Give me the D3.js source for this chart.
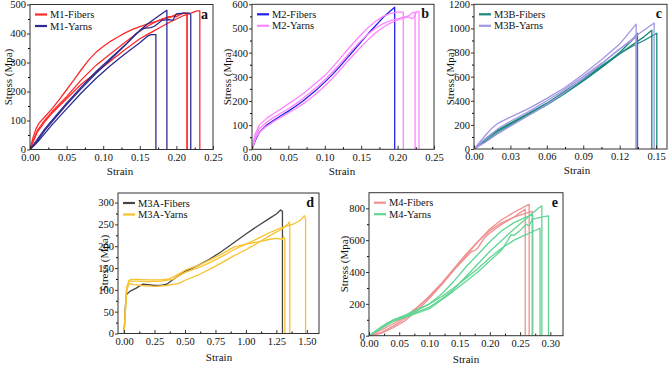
<!DOCTYPE html>
<html><head><meta charset="utf-8">
<script src="https://cdn.jsdelivr.net/npm/d3@7"></script>
<style>body{margin:0;background:#fff}svg{display:block}svg text{font-family:"Liberation Serif","Tinos","Times New Roman","DejaVu Serif",serif !important}</style>
</head><body><svg id="c" width="668" height="365"></svg>
<script>
// ---------- DATA: [strain, stress] ----------
const m1Fibers = [
 [[0,0],[0.004,40],[0.008,70],[0.012,90],[0.02,112],[0.03,140],[0.04,172],[0.05,206],[0.06,240],[0.07,275],[0.08,308],[0.09,335],[0.10,355],[0.11,373],[0.12,388],[0.13,402],[0.14,414],[0.15,424],[0.16,432],[0.17,440],[0.18,448],[0.19,455],[0.20,466],[0.21,470],[0.2146,468]],
 [[0,0],[0.005,30],[0.01,60],[0.02,95],[0.03,125],[0.05,175],[0.07,225],[0.09,265],[0.11,305],[0.13,345],[0.15,382],[0.16,396],[0.17,410],[0.18,424],[0.19,438],[0.20,450],[0.21,462],[0.22,470],[0.228,478],[0.232,478]],
 [[0,0],[0.005,35],[0.01,65],[0.02,100],[0.03,130],[0.05,182],[0.07,240],[0.09,290],[0.11,330],[0.13,370],[0.15,408],[0.16,424],[0.17,438],[0.18,450],[0.19,458],[0.20,458],[0.205,465],[0.21,470],[0.2146,470]]
];
const m1Yarns = [
 [[0,0],[0.01,30],[0.02,65],[0.03,95],[0.05,155],[0.07,210],[0.09,262],[0.11,310],[0.13,360],[0.15,410],[0.16,432],[0.17,450],[0.18,468],[0.187,480]],
 [[0,0],[0.01,25],[0.02,55],[0.03,85],[0.05,140],[0.07,195],[0.09,245],[0.11,290],[0.13,330],[0.15,368],[0.16,390],[0.165,396],[0.172,396]],
 [[0,0],[0.01,35],[0.02,70],[0.03,100],[0.05,160],[0.07,215],[0.09,268],[0.11,315],[0.13,360],[0.145,400],[0.155,418],[0.165,420],[0.17,425],[0.18,445],[0.19,448],[0.195,445],[0.2,468],[0.21,470],[0.218,470],[0.2196,465]]
];
const m2Fibers = [
 [[0,0],[0.005,40],[0.01,70],[0.02,100],[0.03,120],[0.04,140],[0.05,158],[0.06,178],[0.07,200],[0.08,225],[0.09,250],[0.1,278],[0.11,308],[0.12,340],[0.13,375],[0.14,410],[0.15,445],[0.16,480],[0.17,512],[0.18,545],[0.19,572],[0.196,588]]
];
const m2Yarns = [
 [[0,0],[0.004,60],[0.01,100],[0.02,128],[0.03,148],[0.04,168],[0.05,188],[0.06,208],[0.07,230],[0.08,255],[0.09,280],[0.1,305],[0.11,338],[0.12,372],[0.13,408],[0.14,442],[0.15,475],[0.16,505],[0.17,530],[0.18,550],[0.19,562],[0.2,568],[0.2078,568]],
 [[0,0],[0.005,55],[0.01,85],[0.02,112],[0.03,132],[0.04,150],[0.05,168],[0.06,188],[0.07,210],[0.08,235],[0.09,260],[0.1,288],[0.11,318],[0.12,350],[0.13,385],[0.14,418],[0.15,450],[0.16,478],[0.17,502],[0.18,520],[0.19,532],[0.2,540],[0.21,548],[0.215,552],[0.22,565],[0.224,568]],
 [[0,0],[0.005,45],[0.01,70],[0.02,95],[0.03,115],[0.04,133],[0.05,150],[0.06,168],[0.07,188],[0.08,210],[0.09,235],[0.1,262],[0.11,292],[0.12,325],[0.13,360],[0.14,392],[0.15,425],[0.16,455],[0.17,482],[0.18,505],[0.19,522],[0.2,535],[0.21,545],[0.215,548],[0.22,540],[0.223,548],[0.226,570],[0.2294,570]]
];
const m3bFibers = [
 [[0,0],[0.005,40],[0.01,85],[0.02,150],[0.03,205],[0.045,290],[0.06,375],[0.075,470],[0.09,570],[0.105,680],[0.12,800],[0.13,900],[0.1347,960]],
 [[0,0],[0.01,70],[0.02,135],[0.03,195],[0.045,280],[0.06,365],[0.075,460],[0.09,565],[0.105,675],[0.12,790],[0.13,860],[0.14,930],[0.1465,985]],
 [[0,0],[0.01,90],[0.02,160],[0.03,215],[0.045,295],[0.06,380],[0.075,480],[0.09,580],[0.105,690],[0.12,790],[0.13,850],[0.14,900],[0.1506,960]]
];
const m3bYarns = [
 [[0,0],[0.005,60],[0.01,120],[0.015,175],[0.02,215],[0.03,265],[0.045,335],[0.06,420],[0.075,510],[0.09,620],[0.105,740],[0.12,870],[0.1336,1035]],
 [[0,0],[0.01,90],[0.02,170],[0.03,230],[0.045,310],[0.06,400],[0.075,495],[0.09,600],[0.105,710],[0.12,830],[0.135,950],[0.1484,1045]],
 [[0,0],[0.01,60],[0.02,130],[0.03,190],[0.045,280],[0.06,370],[0.075,470],[0.09,585],[0.105,705],[0.12,830],[0.13,900],[0.1336,930]]
];
const m3aFibers = [
 [[0,0],[0.01,60],[0.02,90],[0.05,97],[0.1,104],[0.15,113],[0.2,112],[0.25,110],[0.3,110],[0.35,113],[0.4,123],[0.45,133],[0.5,142],[0.6,155],[0.7,170],[0.8,188],[0.9,208],[1.0,228],[1.1,247],[1.2,265],[1.25,274],[1.285,283],[1.30,280]]
];
const m3aYarns = [
 [[0,0],[0.02,100],[0.04,122],[0.06,124],[0.1,124],[0.2,123],[0.3,123],[0.37,125],[0.42,132],[0.5,145],[0.6,155],[0.7,168],[0.8,182],[0.9,198],[1.0,205],[1.1,210],[1.2,216],[1.25,218],[1.3,216],[1.31,222],[1.32,215]],
 [[0,0],[0.02,95],[0.04,115],[0.08,112],[0.15,110],[0.25,108],[0.35,110],[0.45,115],[0.5,122],[0.6,133],[0.7,147],[0.8,162],[0.9,178],[1.0,192],[1.1,208],[1.2,225],[1.3,240],[1.35,252],[1.355,256],[1.36,250]],
 [[0,0],[0.02,105],[0.04,120],[0.1,120],[0.2,119],[0.3,120],[0.4,124],[0.45,132],[0.5,140],[0.6,150],[0.7,162],[0.8,176],[0.9,192],[1.0,205],[1.1,218],[1.2,232],[1.3,243],[1.4,252],[1.45,260],[1.48,270],[1.49,262]]
];
const m4Fibers = [
 [[0,0],[0.02,20],[0.04,60],[0.06,110],[0.08,175],[0.1,250],[0.12,330],[0.14,420],[0.16,510],[0.18,590],[0.2,670],[0.22,730],[0.24,775],[0.26,815],[0.265,825]],
 [[0,0],[0.02,35],[0.04,75],[0.06,120],[0.08,180],[0.1,245],[0.12,320],[0.14,410],[0.16,490],[0.17,530],[0.175,535],[0.18,550],[0.19,610],[0.2,645],[0.22,700],[0.24,745],[0.2585,795]],
 [[0,0],[0.02,15],[0.04,50],[0.06,95],[0.08,160],[0.1,235],[0.12,320],[0.14,410],[0.16,500],[0.18,590],[0.2,660],[0.22,710],[0.24,745],[0.26,770],[0.27,780]]
];
const m4Yarns = [
 [[0,0],[0.02,50],[0.04,95],[0.06,125],[0.08,160],[0.1,200],[0.12,260],[0.14,340],[0.16,430],[0.18,510],[0.2,590],[0.22,660],[0.24,710],[0.26,745],[0.271,760]],
 [[0,0],[0.02,45],[0.04,90],[0.06,120],[0.08,150],[0.1,180],[0.12,230],[0.14,290],[0.16,370],[0.18,450],[0.2,530],[0.22,600],[0.24,670],[0.26,735],[0.28,800],[0.286,815]],
 [[0,0],[0.02,55],[0.04,100],[0.06,130],[0.08,165],[0.1,200],[0.12,245],[0.14,300],[0.16,360],[0.18,420],[0.2,490],[0.22,550],[0.24,600],[0.26,635],[0.28,670],[0.283,675]],
 [[0,0],[0.03,80],[0.06,115],[0.1,170],[0.14,280],[0.18,400],[0.2,470],[0.22,540],[0.23,600],[0.235,635],[0.24,630],[0.25,660],[0.26,700],[0.265,690],[0.27,730],[0.28,740],[0.29,748],[0.297,752]]
];
// tick values
const ticksA_x=[0,0.05,0.1,0.15,0.2,0.25], ticksA_y=[0,100,200,300,400,500];
const ticksB_x=[0,0.05,0.1,0.15,0.2,0.25], ticksB_y=[0,100,200,300,400,500,600];
const ticksC_x=[0,0.03,0.06,0.09,0.12,0.15], ticksC_y=[0,200,400,600,800,1000,1200];
const ticksD_x=[0,0.25,0.5,0.75,1.0,1.25,1.5], ticksD_y=[0,50,100,150,200,250,300];
const ticksE_x=[0,0.05,0.1,0.15,0.2,0.25,0.3], ticksE_y=[0,200,400,600,800];

// ---------- LAYOUT ----------
const FONT='"Liberation Serif","Tinos","Times New Roman","DejaVu Serif",serif';
const panels = [
 {L:30,R:213,T:4.5,B:149.5,xd:[0,0.25],yd:[0,500],xt:ticksA_x,yt:ticksA_y,fx:".2f",series:[[m1Fibers,"#ff2a2a","M1-Fibers"],[m1Yarns,"#2b2b8f","M1-Yarns"]],letter:"a",ylx:8,yly:77,xlx:120,xly:175},
 {L:252,R:434,T:4.3,B:149.3,xd:[0,0.25],yd:[0,600],xt:ticksB_x,yt:ticksB_y,fx:".2f",series:[[m2Fibers,"#2020e8","M2-Fibers"],[m2Yarns,"#ff84ff","M2-Yarns"]],letter:"b",ylx:227,yly:77,xlx:342,xly:175},
 {L:474,R:667,T:4.3,B:149,xd:[0,0.159],yd:[0,1200],xt:ticksC_x,yt:ticksC_y,fx:".2f",series:[[m3bFibers,"#17897b","M3B-Fibers"],[m3bYarns,"#a197e2","M3B-Yarns"]],letter:"c",ylx:450,yly:77,xlx:577,xly:174},
 {L:118,R:319,T:193,B:333.5,xd:[-0.05,1.6],yd:[0,322],xt:ticksD_x,yt:ticksD_y,fx:".2f",series:[[m3aFibers,"#454545","M3A-Fibers"],[m3aYarns,"#f8c22e","M3A-Yarns"]],letter:"d",ylx:104,yly:263,xlx:219,xly:361},
 {L:369,R:563,T:192.7,B:335.7,xd:[0,0.321],yd:[0,898],xt:ticksE_x,yt:ticksE_y,fx:".2f",series:[[m4Fibers,"#ef9090","M4-Fibers"],[m4Yarns,"#62d595","M4-Yarns"]],letter:"e",ylx:344,yly:264,xlx:466,xly:363}
];

const svg = d3.select("#c").attr("font-family",FONT);
panels.forEach((p,i)=>{
  const x=d3.scaleLinear().domain(p.xd).range([p.L,p.R]);
  const y=d3.scaleLinear().domain(p.yd).range([p.B,p.T]);
  const g=svg.append("g").attr("font-family",FONT);
  const cid="clip"+i;
  svg.append("clipPath").attr("id",cid).append("rect").attr("x",p.L).attr("y",p.T).attr("width",p.R-p.L).attr("height",p.B-p.T);
  const line=d3.line().x(d=>x(d[0])).y(d=>y(d[1]));
  const cg=g.append("g").attr("clip-path",`url(#${cid})`);
  p.series.forEach(([curves,color])=>{
    curves.forEach(c=>{
      const last=c[c.length-1];
      cg.append("path").attr("d",line(c.concat([[last[0],0]]))).attr("fill","none").attr("stroke",color).attr("stroke-width",1.3).attr("stroke-linejoin","round");
    });
  });
  // minor ticks
  const xs=p.xt[1]-p.xt[0], ys=p.yt[1]-p.yt[0];
  const xminor=[], yminor=[];
  for(let k=0;k<p.xt.length;k++){const v=p.xt[k]+xs/2; if(v<p.xd[1]) xminor.push(v);}
  for(let k=0;k<p.yt.length;k++){const v=p.yt[k]+ys/2; if(v<p.yd[1]) yminor.push(v);}
  g.append("g").attr("transform",`translate(0,${p.B})`).call(d3.axisBottom(x).tickValues(xminor).tickSize(-2).tickFormat(""))
    .call(a=>a.select(".domain").remove());
  g.append("g").attr("transform",`translate(${p.L},0)`).call(d3.axisLeft(y).tickValues(yminor).tickSize(2).tickFormat(""))
    .call(a=>a.select(".domain").remove());
  const ax=g.append("g").attr("transform",`translate(0,${p.B})`).call(d3.axisBottom(x).tickValues(p.xt).tickSize(-3.5).tickPadding(4).tickFormat(d3.format(p.fx)));
  ax.select(".domain").remove();
  const ay=g.append("g").attr("transform",`translate(${p.L},0)`).call(d3.axisLeft(y).tickValues(p.yt).tickSize(3).tickPadding(1).tickFormat(d3.format("d")));
  ay.select(".domain").remove();
  [ax,ay].forEach(a=>{a.attr("font-family",FONT);a.selectAll("text").attr("font-size",10.5).attr("fill","#111").attr("font-family",FONT);a.selectAll("line").attr("stroke","#333");});
  g.append("rect").attr("x",p.L).attr("y",p.T).attr("width",p.R-p.L).attr("height",p.B-p.T).attr("fill","none").attr("stroke","#333").attr("stroke-width",1);
  // axis titles
  g.append("text").attr("transform",`translate(${p.ylx},${p.yly}) rotate(-90)`).attr("text-anchor","middle").attr("dy","0.35em").attr("font-size",11).attr("fill","#111").text("Stress (Mpa)");
  g.append("text").attr("x",p.xlx).attr("y",p.xly).attr("text-anchor","middle").attr("font-size",11).attr("fill","#111").text("Strain");
  // letter
  g.append("text").attr("x",p.R-5).attr("y",p.T+14).attr("text-anchor","end").attr("font-size",14).attr("font-weight","bold").attr("fill","#111").text(p.letter);
  // legend
  p.series.forEach(([curves,color,name],k)=>{
    const ly=p.T+10+k*11.5;
    g.append("line").attr("x1",p.L+5).attr("x2",p.L+17).attr("y1",ly).attr("y2",ly).attr("stroke",color).attr("stroke-width",2.2);
    g.append("text").attr("x",p.L+20).attr("y",ly).attr("dy","0.35em").attr("font-size",10.5).attr("fill","#111").text(name);
  });
});
</script></body></html>
